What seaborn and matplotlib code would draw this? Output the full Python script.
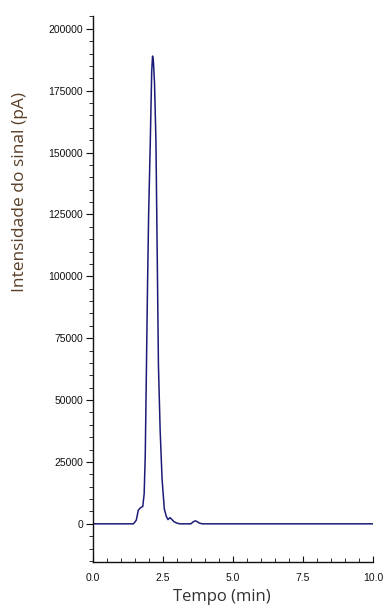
import matplotlib
matplotlib.use("Agg")
import matplotlib.pyplot as plt
import seaborn as sns
import pandas as pd
from matplotlib.ticker import MultipleLocator

# Chromatogram trace
tempo = [0.0, 1.45, 1.55, 1.62, 1.70, 1.78, 1.83, 1.87, 1.91, 1.95, 1.99,
         2.05, 2.10, 2.13, 2.16, 2.20, 2.25, 2.30, 2.34, 2.40, 2.47, 2.55,
         2.62, 2.68, 2.75, 2.80, 2.90, 3.00, 3.10, 3.50, 3.58, 3.65, 3.72,
         3.80, 3.90, 10.0]
intensidade = [0, 0, 1500, 5500, 6500, 7000, 12000, 28000, 62000, 96000, 125000,
               155000, 183000, 189000, 187000, 178000, 155000, 105000, 64000, 38000, 18000, 6000,
               3000, 1700, 2500, 2000, 800, 300, 0, 0, 800, 1200, 900,
               300, 0, 0]

x_ticks = [0.0, 2.5, 5.0, 7.5, 10.0]
y_ticks = [0, 25000, 50000, 75000, 100000, 125000, 150000, 175000, 200000]

df = pd.DataFrame({"tempo": tempo, "intensidade": intensidade})

sns.set_style("ticks")
plt.rcParams["font.family"] = ["Liberation Sans", "DejaVu Sans"]

fig = plt.figure(figsize=(3.87, 6.10), dpi=100)
ax = fig.add_axes([0.240, 0.079, 0.724, 0.895])

sns.lineplot(data=df, x="tempo", y="intensidade", color="#1c1c78", linewidth=1.1, ax=ax)

ax.set_xlim(0, 10)
ax.set_ylim(-15350, 205250)
ax.set_xticks(x_ticks)
ax.set_xticklabels([f"{v:.1f}" for v in x_ticks])
ax.set_yticks(y_ticks)
ax.set_yticklabels([str(v) for v in y_ticks])
ax.xaxis.set_minor_locator(MultipleLocator(0.5))
ax.yaxis.set_minor_locator(MultipleLocator(5000))

ax.tick_params(axis="x", which="both", direction="in", labelsize=7.5, pad=8, colors="#111111")
ax.tick_params(axis="x", which="major", length=4)
ax.tick_params(axis="x", which="minor", length=3)
ax.tick_params(axis="y", which="both", direction="out", labelsize=7.5, pad=2, colors="#111111")
ax.tick_params(axis="y", which="major", length=5)
ax.tick_params(axis="y", which="minor", length=3)

sns.despine(ax=ax)
for s in ["left", "bottom"]:
    ax.spines[s].set_color("#111111")
    ax.spines[s].set_linewidth(1.0)

ax.set_xlabel("Tempo (min)", fontsize=12, family="Open Sans", color="#333333")
ax.set_ylabel("Intensidade do sinal (pA)", fontsize=12.5, family="Open Sans", color="#5a4028")
ax.xaxis.set_label_coords(0.46, -0.05)
ax.yaxis.set_label_coords(-0.232, 0.678)

fig.savefig("out.png", dpi=100)
